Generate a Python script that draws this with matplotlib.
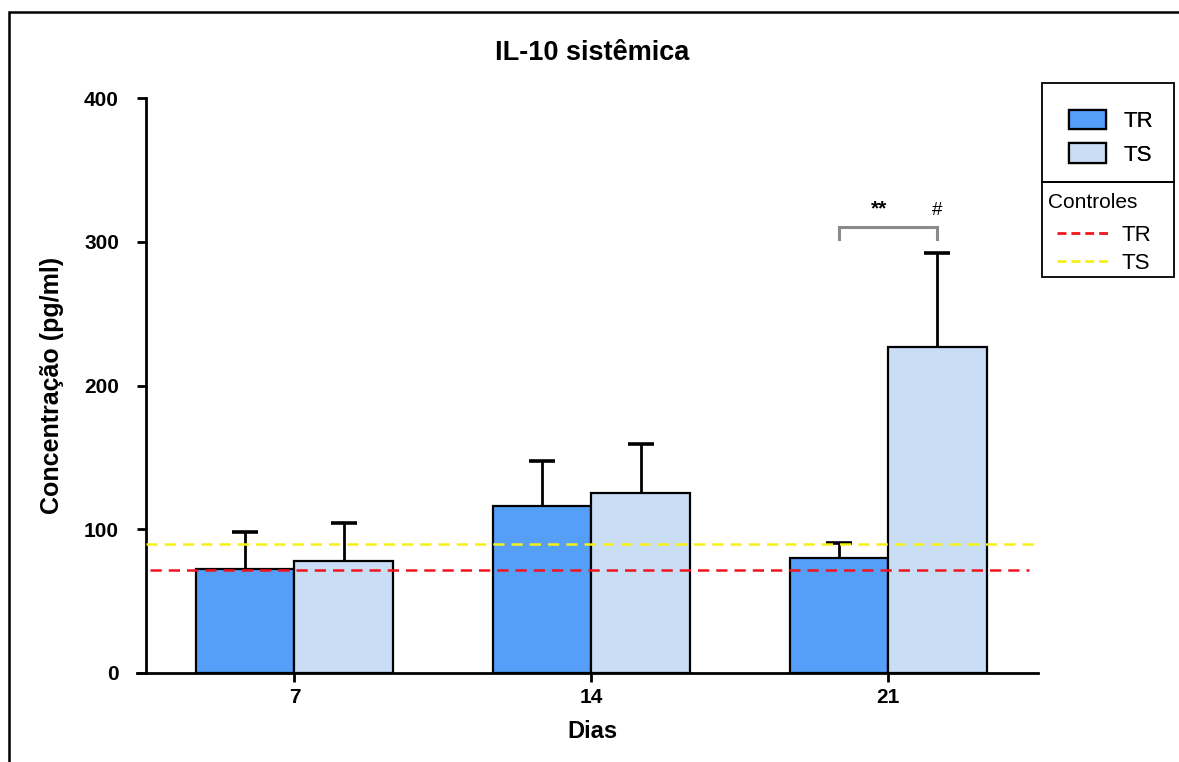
import numpy as np
import matplotlib
matplotlib.use('Agg')
import matplotlib.pyplot as plt
from matplotlib.patches import Rectangle, Patch
from matplotlib.lines import Line2D

plt.rcParams['font.family'] = ['Liberation Sans', 'DejaVu Sans']

# Data
days = ['7', '14', '21']
tr_mean = [72.5, 116, 80]
tr_err = [25.5, 31.5, 10.5]
ts_mean = [78, 125, 226.5]
ts_err = [26.5, 34, 66]
ctrl_tr = 71.5
ctrl_ts = 89.5

c_tr = '#559ff9'
c_ts = '#c9ddf5'

fig = plt.figure(figsize=(11.79, 7.62), dpi=100)
ax = fig.add_axes([146 / 1179, 89 / 762, 892 / 1179, 575 / 762])

x = np.arange(len(days))
w = 0.332

ax.bar(x - w / 2, tr_mean, w, color=c_tr, edgecolor='black', linewidth=1.6, zorder=3)
ax.bar(x + w / 2, ts_mean, w, color=c_ts, edgecolor='black', linewidth=1.6, zorder=3)
for xs, m, e in [(x - w / 2, tr_mean, tr_err), (x + w / 2, ts_mean, ts_err)]:
    eb = ax.errorbar(xs, m, yerr=[np.zeros(3), e], fmt='none', ecolor='black',
                     elinewidth=2.0, capsize=9.5, capthick=2.6, zorder=2)
    eb[1][0].set_visible(False)  # hide the lower cap, only upper bars shown

ax.axhline(ctrl_ts, xmin=0, xmax=1, color='#f5f019', linestyle=(0, (4.5, 2.8)), linewidth=1.8, zorder=4)
ax.axhline(ctrl_tr, xmin=0.005, xmax=0.99, color='#f0141e', linestyle=(0, (4.5, 2.8)), linewidth=1.8, zorder=4)

# significance bracket at day 21
bx0, bx1 = x[2] - w / 2, x[2] + w / 2
ax.plot([bx0, bx0, bx1, bx1], [302, 310.5, 310.5, 302], color='#8a8a8a', linewidth=2.2,
        solid_joinstyle='miter', zorder=3)
ax.text((bx0 + bx1) / 2 - 0.03, 316, '**', ha='center', va='bottom', fontsize=15, fontweight='bold')
ax.text(bx1, 316, '#', ha='center', va='bottom', fontsize=13.5)

ax.set_xlim(-0.5, 2.505)
ax.set_ylim(0, 400)
ax.set_xticks(x)
ax.set_xticklabels(days)
ax.set_yticks([0, 100, 200, 300, 400])
for sp in ['top', 'right']:
    ax.spines[sp].set_visible(False)
for sp in ['left', 'bottom']:
    ax.spines[sp].set_linewidth(2.0)
ax.spines['bottom'].set_bounds(-0.53, 2.505)
ax.tick_params(axis='both', direction='out', length=6.5, width=2.0, labelsize=15)
ax.tick_params(axis='y', pad=13)
ax.tick_params(axis='x', pad=4)
for lab in ax.get_xticklabels() + ax.get_yticklabels():
    lab.set_fontweight('bold')
ax.set_xlabel('Dias', fontsize=17, fontweight='bold', labelpad=10)
ax.set_ylabel('Concentração (pg/ml)', fontsize=18, fontweight='bold', labelpad=14)
ax.set_title('IL-10 sistêmica', fontsize=19.5, fontweight='bold', pad=27)

# legend boxes
W, H = 1179, 762
fig.patches.append(Rectangle((1042 / W, 1 - 182 / H), 132 / W, 99 / H, transform=fig.transFigure,
                             fill=False, edgecolor='black', linewidth=1.3))
fig.patches.append(Rectangle((1042 / W, 1 - 277 / H), 132 / W, 95 / H, transform=fig.transFigure,
                             fill=False, edgecolor='black', linewidth=1.3))

h1 = [Patch(facecolor=c_tr, edgecolor='black', linewidth=1.6),
      Patch(facecolor=c_ts, edgecolor='black', linewidth=1.6)]
leg1 = fig.legend(h1, ['TR', 'TS'], loc='upper left', bbox_to_anchor=(1058 / W, 1 - 99 / H),
                  frameon=False, fontsize=16, handlelength=1.65, handleheight=0.95,
                  labelspacing=0.5, handletextpad=0.8, borderpad=0)
fig.text(1048 / W, 1 - 202 / H, 'Controles', fontsize=15, ha='left', va='center')
h2 = [Line2D([0], [0], color='#f0141e', linestyle=(0, (3.2, 1.8)), linewidth=2.0),
      Line2D([0], [0], color='#f5f019', linestyle=(0, (3.2, 1.8)), linewidth=2.0)]
leg2 = fig.legend(h2, ['TR', 'TS'], loc='upper left', bbox_to_anchor=(1046 / W, 1 - 214 / H),
                  frameon=False, fontsize=16, handlelength=2.4, labelspacing=0.3,
                  handletextpad=0.5, borderpad=0)
fig.add_artist(leg1)

# outer frame
fig.patches.append(Rectangle((9 / W, -0.1), 1.2, 1 - 12 / H + 0.1, transform=fig.transFigure,
                             fill=False, edgecolor='black', linewidth=1.8, clip_on=False))

fig.savefig('out.png', dpi=100)
